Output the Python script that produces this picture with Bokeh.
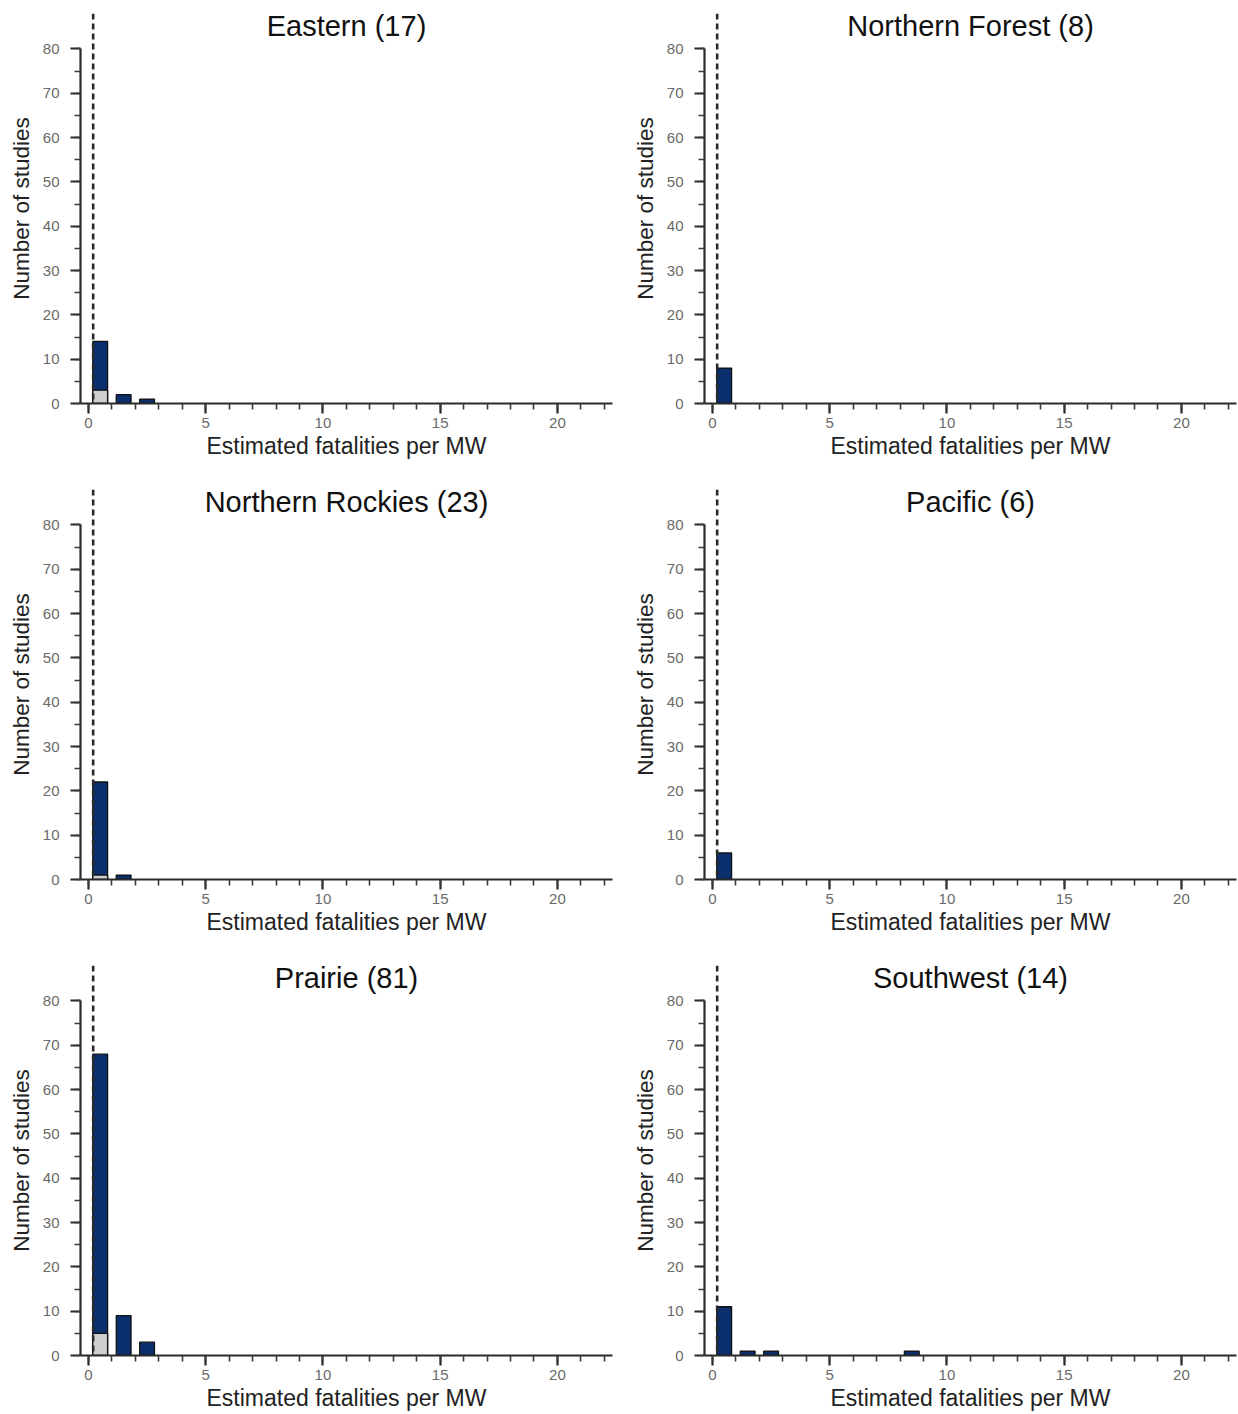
from bokeh.plotting import figure
from bokeh.layouts import column, row
from bokeh.models import Span, Label, SingleIntervalTicker, Range1d
from bokeh.embed import file_html
from bokeh.resources import INLINE

# ---- data ----
regions = ["Eastern", "Northern Forest", "Northern Rockies", "Pacific", "Prairie", "Southwest"]
n_studies = [17, 8, 23, 6, 81, 14]
bin_starts = [0, 1, 2, 3, 4, 5, 6, 7, 8]

eastern_all = [14, 2, 1, 0, 0, 0, 0, 0, 0]
eastern_sub = [3, 0, 0, 0, 0, 0, 0, 0, 0]
northern_forest_all = [8, 0, 0, 0, 0, 0, 0, 0, 0]
northern_forest_sub = [0, 0, 0, 0, 0, 0, 0, 0, 0]
northern_rockies_all = [22, 1, 0, 0, 0, 0, 0, 0, 0]
northern_rockies_sub = [1, 0, 0, 0, 0, 0, 0, 0, 0]
pacific_all = [6, 0, 0, 0, 0, 0, 0, 0, 0]
pacific_sub = [0, 0, 0, 0, 0, 0, 0, 0, 0]
prairie_all = [68, 9, 3, 0, 0, 0, 0, 0, 0]
prairie_sub = [5, 0, 0, 0, 0, 0, 0, 0, 0]
southwest_all = [11, 1, 1, 0, 0, 0, 0, 0, 1]
southwest_sub = [0, 0, 0, 0, 0, 0, 0, 0, 0]

all_counts = [eastern_all, northern_forest_all, northern_rockies_all,
              pacific_all, prairie_all, southwest_all]
sub_counts = [eastern_sub, northern_forest_sub, northern_rockies_sub,
              pacific_sub, prairie_sub, southwest_sub]

threshold = 0.2

x_label = "Estimated fatalities per MW"
y_label = "Number of studies"

# ---- styling ----
NAVY = "#0a2f6c"
GRAY = "#cfcfcf"
FONT = "Liberation Sans"
X_START, X_END = -0.34, 22.35
Y_START, Y_END = 0, 88
BAR_W = 0.63
TITLE_Y = 85.2


def make_panel(name, n, counts, sub, top_border, bottom_border, right_border):
    p = figure(output_backend="svg", toolbar_location=None,
               frame_width=532, frame_height=390,
               min_border_left=80, min_border_right=right_border,
               min_border_top=top_border, min_border_bottom=bottom_border,
               x_range=Range1d(X_START, X_END), y_range=Range1d(Y_START, Y_END),
               background_fill_color="white", border_fill_color="white")
    p.outline_line_color = None
    p.xgrid.visible = False
    p.ygrid.visible = False

    xs = [b + 0.5 for b, c in zip(bin_starts, counts) if c > 0]
    tops = [c for c in counts if c > 0]
    p.vbar(x=xs, top=tops, width=BAR_W, bottom=0,
           fill_color=NAVY, line_color="#111111", line_width=1.3)
    sxs = [b + 0.5 for b, c in zip(bin_starts, sub) if c > 0]
    stops = [c for c in sub if c > 0]
    if stops:
        p.vbar(x=sxs, top=stops, width=BAR_W, bottom=0,
               fill_color=GRAY, line_color="#111111", line_width=1.3)

    p.add_layout(Span(location=threshold, dimension="height",
                      line_color="#2a2a2a", line_width=2.6, line_dash="6 4"))

    p.add_layout(Label(x=(X_START + X_END) / 2, y=TITLE_Y, text=f"{name} ({n})",
                       text_align="center", text_baseline="alphabetic",
                       text_font=FONT, text_font_size="29px", text_color="#111111"))

    xa = p.xaxis[0]
    xa.ticker = SingleIntervalTicker(interval=5, num_minor_ticks=5)
    xa.axis_label = x_label
    ya = p.yaxis[0]
    ya.ticker = SingleIntervalTicker(interval=10, num_minor_ticks=2)
    ya.bounds = (0, 80)
    ya.axis_label = y_label

    for ax in (xa, ya):
        ax.axis_line_color = "#2a2a2a"
        ax.axis_line_width = 2.2
        ax.major_tick_line_color = "#2a2a2a"
        ax.major_tick_line_width = 2.2
        ax.minor_tick_line_color = "#3a3a3a"
        ax.minor_tick_line_width = 1.6
        ax.major_tick_in = 0
        ax.minor_tick_in = 0
        ax.major_tick_out = 10
        ax.minor_tick_out = 6
        ax.major_label_text_font = FONT
        ax.major_label_text_font_size = "15px"
        ax.major_label_text_color = "#6a6a6a"
        ax.axis_label_text_font = FONT
        ax.axis_label_text_font_style = "normal"
        ax.axis_label_text_color = "#222222"
    xa.axis_label_text_font_size = "23px"
    ya.axis_label_text_font_size = "22.5px"
    xa.major_label_standoff = 4
    xa.axis_label_standoff = 2
    ya.major_label_standoff = 11
    ya.axis_label_standoff = 6
    return p


tops_b = [13, 13, 26, 26, 26, 26]
bots_b = [60, 60, 60, 60, 59, 59]
rights_b = [12, 2, 12, 2, 12, 2]
panels = [make_panel(regions[i], n_studies[i], all_counts[i], sub_counts[i],
                     tops_b[i], bots_b[i], rights_b[i]) for i in range(6)]

layout = column(row(panels[0], panels[1]),
                row(panels[2], panels[3]),
                row(panels[4], panels[5]))

open("out.html", "w").write(file_html(layout, INLINE))
